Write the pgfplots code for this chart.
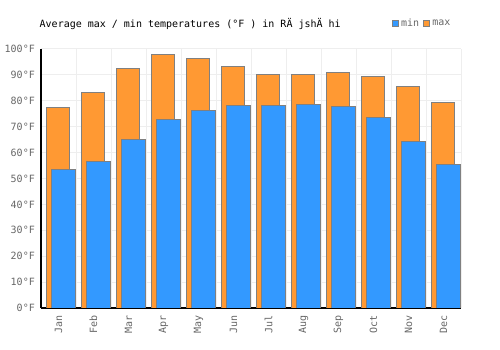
\documentclass[border=0pt]{standalone}
\usepackage{fontspec}
\setmainfont{DejaVu Sans Mono}
\usepackage{pgfplots}
\pgfplotsset{compat=1.18}
\definecolor{barblue}{HTML}{3399FF}
\definecolor{barorange}{HTML}{FF9933}
\definecolor{bordergray}{HTML}{808080}
\definecolor{gridgray}{HTML}{EEEEEE}
\definecolor{labelgray}{HTML}{666666}
\begin{document}
\begin{tikzpicture}[font=\fontsize{10bp}{12bp}\selectfont]
\path[use as bounding box] (-41bp,-42bp) rectangle (459bp,308bp);
\begin{axis}[
  scale only axis,
  width=420bp, height=259bp,
  xmin=-0.5, xmax=11.5,
  ymin=0, ymax=100,
  axis x line=bottom, axis y line=left,
  axis line style={-, black, line width=1.3bp},
  xtick={0,...,11},
  xticklabels={Jan,Feb,Mar,Apr,May,Jun,Jul,Aug,Sep,Oct,Nov,Dec},
  minor xtick={-0.5,0.5,...,11.5},
  ytick={0,10,...,100},
  yticklabels={0°F,10°F,20°F,30°F,40°F,50°F,60°F,70°F,80°F,90°F,100°F},
  major tick length=0pt, minor tick length=0pt,
  ymajorgrids, xminorgrids,
  grid style={gridgray, line width=1bp},
  minor grid style={gridgray, line width=1bp},
  yticklabel style={text=labelgray, anchor=east, inner sep=0pt, xshift=-6bp},
  xticklabel style={text=labelgray, rotate=90, anchor=east, inner sep=0pt, xshift=-7bp},
  legend columns=2,
  legend style={at={(rel axis cs:0.835,1.098)}, anchor=west, draw=none, fill=none,
    inner sep=0pt, outer sep=0pt, column sep=0pt,
    nodes={inner sep=0pt, text=labelgray}},
  legend image code/.code={\draw[#1] (0bp,-3bp) rectangle (6bp,3bp);},
]
\addlegendimage{fill=barblue, draw=bordergray, line width=0.8bp}
\addlegendentry{\rule{2.5bp}{0pt}\makebox[22bp][l]{min}}
\addlegendimage{fill=barorange, draw=bordergray, line width=0.8bp}
\addlegendentry{\rule{2.5bp}{0pt}max}
\addplot[ybar, bar width=0.669, bar shift=-0.014, fill=barorange, draw=bordergray, line width=1bp, forget plot]
  coordinates {(0,77.5) (1,83.3) (2,92.5) (3,97.9) (4,96.4) (5,93.3) (6,90.2) (7,90.2) (8,91.0) (9,89.5) (10,85.6) (11,79.4)};
\addplot[ybar, bar width=0.697, bar shift=0.143, fill=barblue, draw=bordergray, line width=1bp, forget plot]
  coordinates {(0,53.6) (1,56.6) (2,65.1) (3,72.9) (4,76.1) (5,78.3) (6,78.3) (7,78.6) (8,77.9) (9,73.6) (10,64.4) (11,55.5)};
\end{axis}
\node[anchor=base west, inner sep=0pt] at (-1.5bp,280bp) {Average max / min temperatures (°F ) in RÄ jshÄ hi};
\end{tikzpicture}
\end{document}
